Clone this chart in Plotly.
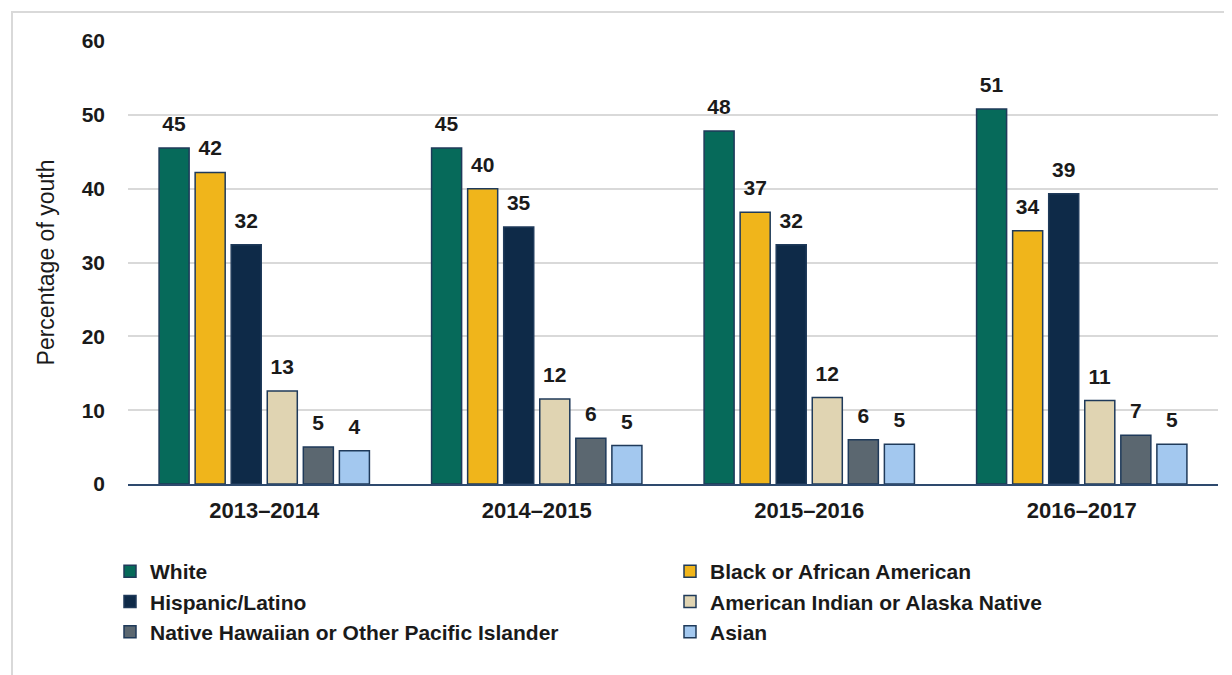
import plotly.graph_objects as go

years = ["2013–2014", "2014–2015", "2015–2016", "2016–2017"]
groups = ["White", "Black or African American", "Hispanic/Latino",
          "American Indian or Alaska Native",
          "Native Hawaiian or Other Pacific Islander", "Asian"]
white = [45.5, 45.5, 47.8, 50.8]
black = [42.2, 40.0, 36.8, 34.3]
hispanic = [32.4, 34.8, 32.4, 39.3]
aian = [12.6, 11.5, 11.7, 11.3]
nhpi = [5.0, 6.2, 6.0, 6.6]
asian = [4.5, 5.2, 5.4, 5.4]
white_lbl = ["45", "45", "48", "51"]
black_lbl = ["42", "40", "37", "34"]
hispanic_lbl = ["32", "35", "32", "39"]
aian_lbl = ["13", "12", "12", "11"]
nhpi_lbl = ["5", "6", "6", "7"]
asian_lbl = ["4", "5", "5", "5"]

series = [white, black, hispanic, aian, nhpi, asian]
labels = [white_lbl, black_lbl, hispanic_lbl, aian_lbl, nhpi_lbl, asian_lbl]
colors = ["#066A5A", "#F0B51B", "#0E2A48", "#E0D4B2", "#5B6770", "#A3C8EF"]

FONT = "Liberation Sans, Arial, sans-serif"
LABEL_PAD = 1.35   # gap (in axis units) between bar top and its value label

fig = go.Figure()
for i, (name, vals, col) in enumerate(zip(groups, series, colors)):
    fig.add_trace(go.Bar(
        name=name, x=years, y=vals, offsetgroup=str(i),
        marker=dict(color=col, line=dict(color="#1F3A5A", width=1.5)),
    ))
# value labels: invisible spacer bars sitting on each bar, labelled outside
for i, (vals, lbl) in enumerate(zip(series, labels)):
    fig.add_trace(go.Bar(
        x=years, y=[LABEL_PAD] * len(vals), base=vals, offsetgroup=str(i),
        text=lbl, textposition="outside", texttemplate="<b>%{text}</b>",
        cliponaxis=False, showlegend=False, hoverinfo="skip",
        textfont=dict(family=FONT, size=21, color="#1a1a1a"),
        marker=dict(color="rgba(0,0,0,0)", line=dict(width=0)),
    ))

# figure is drawn with an 8px page margin, so figure coords = screen - 8
W, H = 1232, 675
L, T = 120, 33
PR, PB = 1210, 476          # plot right / bottom in figure coords
R, B = W - PR, H - PB
pw, ph = PR - L, PB - T

def px(x):
    return (x - L) / pw

def py(y):
    return (PB - y) / ph

fig.update_layout(
    width=W, height=H,
    margin=dict(l=L, r=R, t=T, b=B),
    paper_bgcolor="white", plot_bgcolor="white",
    barmode="group", bargap=0.206, bargroupgap=0.167,
    font=dict(family=FONT, color="#1a1a1a"),
    showlegend=True,
    legend=dict(
        orientation="h", x=-0.001, y=py(543), xanchor="left", yanchor="top",
        entrywidth=525, entrywidthmode="pixels", traceorder="normal",
        indentation=-10,
        font=dict(family=FONT, size=21, color="#1a1a1a", weight="bold"),
        itemclick=False, itemdoubleclick=False,
    ),
    xaxis=dict(
        showline=True, linecolor="#2E4A6E", linewidth=2,
        ticks="", tickfont=dict(family=FONT, size=22, color="#1a1a1a", weight="bold"),
        ticklabelstandoff=6,
    ),
    yaxis=dict(
        range=[0, 60], dtick=10, showgrid=True, gridcolor="#D9D9D9", gridwidth=1.5,
        zeroline=False, showline=False,
        tickfont=dict(family=FONT, size=21, color="#1a1a1a", weight="bold"),
        ticklabelstandoff=22,
        title=dict(text="Percentage of youth", font=dict(family=FONT, size=23, color="#1a1a1a"),
                   standoff=20),
    ),
    shapes=[dict(type="rect", xref="paper", yref="paper",
                 x0=px(4), x1=px(1260), y0=py(700), y1=py(4),
                 line=dict(color="#D9D9D9", width=2), fillcolor="rgba(0,0,0,0)",
                 layer="below")],
)

fig.write_html("out.html")
